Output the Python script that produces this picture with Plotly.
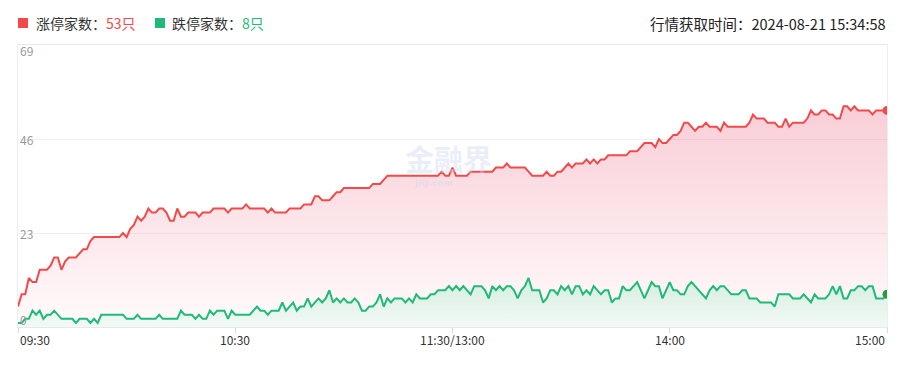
import plotly.graph_objects as go

# ---------------- data ----------------
up_counts = [
    5, 8, 8, 12, 11, 11, 14, 14, 14, 15,
    17, 17, 14, 16, 17, 17, 17, 18, 19, 19,
    21, 22, 22, 22, 22, 22, 22, 22, 22, 23,
    22, 24, 25, 27, 26, 27, 29, 28, 28, 29,
    29, 28, 26, 26, 29, 27, 27, 28, 28, 28,
    27, 28, 28, 28, 29, 29, 29, 29, 28, 29,
    29, 29, 29, 30, 29, 29, 29, 29, 29, 28,
    29, 28, 28, 28, 28, 29, 29, 29, 29, 30,
    30, 30, 32, 32, 31, 31, 31, 32, 33, 33,
    34, 34, 34, 34, 34, 34, 34, 34, 35, 35,
    35, 36, 37, 37, 37, 37, 37, 37, 37, 37,
    37, 37, 37, 37, 37, 37, 37, 38, 37, 37,
    39, 37, 37, 37, 37, 38, 38, 38, 38, 38,
    38, 38, 39, 39, 39, 40, 39, 39, 39, 39,
    39, 38, 37, 37, 37, 37, 38, 37, 37, 38,
    38, 39, 40, 39, 40, 40, 40, 41, 40, 41,
    40, 41, 41, 42, 42, 42, 42, 42, 42, 43,
    43, 43, 44, 45, 45, 45, 44, 46, 45, 45,
    46, 47, 47, 48, 50, 50, 49, 48, 49, 49,
    50, 49, 49, 49, 48, 50, 49, 49, 49, 49,
    49, 49, 50, 52, 51, 51, 51, 50, 50, 50,
    49, 49, 51, 49, 50, 50, 50, 50, 51, 53,
    52, 52, 53, 53, 52, 52, 51, 51, 54, 54,
    53, 54, 53, 53, 53, 53, 52, 53, 53, 53,
    53,
]

down_counts = [
    1, 1, 2, 2, 4, 3, 4, 2, 3, 3,
    4, 3, 2, 2, 2, 2, 1, 2, 2, 2,
    1, 2, 1, 3, 3, 3, 3, 3, 3, 3,
    2, 2, 2, 3, 2, 2, 2, 2, 2, 3,
    2, 2, 2, 2, 2, 4, 3, 3, 3, 2,
    3, 2, 2, 4, 3, 4, 4, 4, 2, 4,
    3, 3, 3, 3, 3, 4, 5, 4, 4, 3,
    4, 4, 4, 6, 4, 5, 6, 4, 5, 5,
    7, 5, 6, 7, 6, 7, 9, 6, 7, 6,
    7, 6, 6, 7, 6, 4, 4, 5, 5, 6,
    8, 5, 7, 6, 7, 7, 7, 6, 7, 6,
    8, 7, 7, 7, 8, 8, 9, 9, 9, 10,
    9, 10, 9, 10, 9, 8, 10, 10, 10, 9,
    7, 10, 9, 10, 9, 10, 10, 9, 7, 9,
    10, 12, 9, 9, 9, 6, 7, 9, 9, 8,
    10, 9, 10, 8, 10, 10, 8, 9, 8, 10,
    9, 8, 9, 9, 6, 7, 7, 10, 9, 9,
    10, 11, 9, 7, 9, 11, 10, 10, 7, 9,
    11, 9, 9, 8, 8, 10, 11, 10, 9, 8,
    7, 9, 10, 9, 10, 10, 9, 8, 8, 8,
    9, 9, 7, 7, 7, 6, 6, 6, 6, 5,
    8, 8, 8, 8, 7, 7, 7, 8, 7, 6,
    8, 7, 7, 7, 8, 10, 8, 10, 7, 7,
    9, 9, 10, 10, 9, 10, 10, 7, 7, 7,
    8,
]

minutes = list(range(len(up_counts)))          # trading minutes since 09:30
x_tick_vals = [0, 60, 120, 180, 240]
x_tick_text = ["09:30", "10:30", "11:30/13:00", "14:00", "15:00"]
y_tick_vals = [0, 23, 46, 69]
y_max = 69

up_name = "涨停家数"
down_name = "跌停家数"
unit = "只"
fetch_time = "行情获取时间：2024-08-21 15:34:58"

# ---------------- style ----------------
RED = "#f24a4a"
GREEN = "#1fba77"
FONT = "Noto Sans CJK SC, Noto Sans, sans-serif"
OFF = 8                      # page body margin
W, H = 910 - OFF, 366 - OFF
ML, MR, MT = 18 - OFF, 910 - 887, 45 - OFF
MB = 366 - 327
PW, PH = W - ML - MR, H - MT - MB


def px_to_paper_x(px):
    # px given in window pixels
    return (px - OFF - ML) / PW


def px_to_paper_y(py):
    return (H - MB - (py - OFF)) / PH


fig = go.Figure()

fig.add_trace(go.Scatter(
    x=minutes, y=up_counts, mode="lines",
    line=dict(color=RED, width=2),
    fill="tozeroy",
    fillgradient=dict(
        type="vertical",
        colorscale=[[0, "rgba(235,70,100,0.02)"], [1, "rgba(232,72,105,0.27)"]],
    ),
    hoverinfo="skip", showlegend=False,
))
fig.add_trace(go.Scatter(
    x=minutes, y=down_counts, mode="lines",
    line=dict(color=GREEN, width=2),
    fill="tozeroy",
    fillgradient=dict(
        type="vertical",
        colorscale=[[0, "rgba(242,249,245,0.9)"], [1, "rgba(208,237,221,0.9)"]],
    ),
    hoverinfo="skip", showlegend=False,
))
# end markers
fig.add_trace(go.Scatter(
    x=[minutes[-1]], y=[up_counts[-1]], mode="markers",
    marker=dict(color=RED, size=9), cliponaxis=True,
    hoverinfo="skip", showlegend=False,
))
fig.add_trace(go.Scatter(
    x=[minutes[-1]], y=[down_counts[-1]], mode="markers",
    marker=dict(color="#2c9a3c", size=9), cliponaxis=True,
    hoverinfo="skip", showlegend=False,
))

annotations = []
# watermark
annotations.append(dict(
    x=px_to_paper_x(448), y=px_to_paper_y(158), xref="paper", yref="paper",
    text="<b>金融界</b>", showarrow=False,
    font=dict(family=FONT, size=29, color="rgba(205,215,238,0.42)"),
))
annotations.append(dict(
    x=px_to_paper_x(433), y=px_to_paper_y(183), xref="paper", yref="paper",
    text="<b>JRJ.com</b>", showarrow=False,
    font=dict(family="DejaVu Sans", size=9, color="rgba(205,215,238,0.42)"),
))

# y tick labels inside the plot
for i, v in enumerate(y_tick_vals):
    shift = 0
    if i == 0:
        shift = 8
    elif i == len(y_tick_vals) - 1:
        shift = -5
    annotations.append(dict(
        x=0, y=v, xref="paper", yref="y", xanchor="left", yanchor="middle",
        yshift=shift, text=str(v), showarrow=False,
        font=dict(family=FONT, size=12, color="#9a9a9a"),
    ))

# x tick labels
for i, (v, t) in enumerate(zip(x_tick_vals, x_tick_text)):
    anchor = "center"
    if i == 0:
        anchor = "left"
    elif i == len(x_tick_vals) - 1:
        anchor = "right"
    annotations.append(dict(
        x=v, y=px_to_paper_y(339), xref="x", yref="paper",
        xanchor=anchor, yanchor="middle", text=t, showarrow=False,
        font=dict(family=FONT, size=12, color="#333333"),
    ))

# header legend texts
annotations.append(dict(
    x=px_to_paper_x(34), y=px_to_paper_y(23), xref="paper", yref="paper",
    xanchor="left", yanchor="middle", showarrow=False,
    text=f"{up_name}：<span style='color:{RED}'>{up_counts[-1]}{unit}</span>",
    font=dict(family=FONT, size=14, color="#333333"),
))
annotations.append(dict(
    x=px_to_paper_x(170), y=px_to_paper_y(23), xref="paper", yref="paper",
    xanchor="left", yanchor="middle", showarrow=False,
    text=f"{down_name}：<span style='color:{GREEN}'>{down_counts[-1]}{unit}</span>",
    font=dict(family=FONT, size=14, color="#333333"),
))
annotations.append(dict(
    x=px_to_paper_x(888), y=px_to_paper_y(23), xref="paper", yref="paper",
    xanchor="right", yanchor="middle", showarrow=False,
    text=fetch_time,
    font=dict(family=FONT, size=14.5, color="#222222"),
))

shapes = []
for (x0, col) in [(18, RED), (155, GREEN)]:
    shapes.append(dict(
        type="rect", xref="paper", yref="paper",
        x0=px_to_paper_x(x0), x1=px_to_paper_x(x0 + 10),
        y0=px_to_paper_y(28), y1=px_to_paper_y(18),
        fillcolor=col, line=dict(width=0), layer="above",
    ))

fig.update_layout(
    width=W, height=H,
    margin=dict(l=ML, r=MR, t=MT, b=MB),
    paper_bgcolor="white", plot_bgcolor="white",
    showlegend=False,
    annotations=annotations,
    shapes=shapes,
    xaxis=dict(
        range=[minutes[0], minutes[-1]],
        tickvals=x_tick_vals, ticktext=x_tick_text,
        showticklabels=False,
        ticks="outside", ticklen=5, tickcolor="#d6dae3",
        showgrid=False, zeroline=False,
        showline=True, linecolor="#e6e8ee", linewidth=1, mirror=True,
    ),
    yaxis=dict(
        range=[0, y_max],
        tickvals=y_tick_vals, showticklabels=False,
        showgrid=True, gridcolor="#efefef", gridwidth=1,
        zeroline=False,
        showline=True, linecolor="#eceef2", linewidth=1, mirror=True,
    ),
)

fig.write_html("out.html")
